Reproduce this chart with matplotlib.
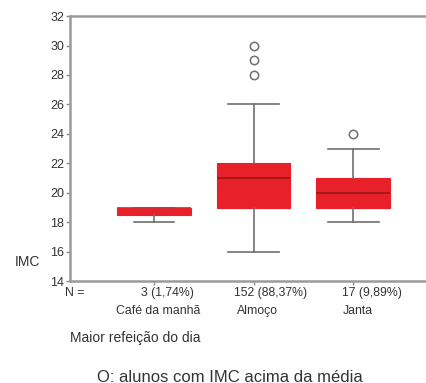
import matplotlib.pyplot as plt
import matplotlib.transforms as mtransforms

# IMC por maior refeicao do dia
categorias = ['Café da manhã', 'Almoço', 'Janta']
contagens = ['3 (1,74%)', '152 (88,37%)', '17 (9,89%)']
whisker_baixo = [18, 16, 18]
q1 = [18.5, 19, 19]
mediana = [19, 21, 20]
q3 = [19, 22, 21]
whisker_alto = [19, 26, 23]
outliers = [[], [28, 29, 30], [24]]
yticks = [14, 16, 18, 20, 22, 24, 26, 28, 30, 32]

plt.rcParams['font.family'] = ['Liberation Sans', 'DejaVu Sans']

fig = plt.figure(figsize=(4.26, 3.83), dpi=100)
ax = fig.add_axes([0.164, 0.266, 0.836, 0.692])

stats = []
for i in range(len(categorias)):
  stats.append(dict(whislo=whisker_baixo[i], q1=q1[i], med=mediana[i],
                    q3=q3[i], whishi=whisker_alto[i], fliers=outliers[i]))

cinza = '#6f6f6f'
vermelho = '#e8202a'
texto = '#333333'
bp = ax.bxp(stats, positions=[1, 2, 3], widths=0.74, patch_artist=True,
            capwidths=[0.4, 0.51, 0.51],
            boxprops=dict(facecolor=vermelho, edgecolor=vermelho, linewidth=0.8),
            medianprops=dict(color='#9a1418', linewidth=1.2),
            whiskerprops=dict(color=cinza, linewidth=1.2),
            capprops=dict(color=cinza, linewidth=1.2),
            flierprops=dict(marker='o', markerfacecolor='none', markeredgecolor=cinza,
                            markersize=6, markeredgewidth=1.1))
# mediana coincide com Q3 no cafe da manha: nao aparece no original
bp['medians'][0].set_color(vermelho)

ax.set_xlim(0.156, 3.73)
ax.set_ylim(14, 32)
ax.set_yticks(yticks)
ax.set_xticks([1, 2, 3])
ax.set_xticklabels([])
ax.tick_params(axis='both', colors='#8a8a8a', length=3, width=1,
               labelcolor=texto, labelsize=9, pad=1)

for s in ['left', 'bottom', 'top']:
  ax.spines[s].set_color('#9a9a9a')
  ax.spines[s].set_linewidth(1.8)
ax.spines['right'].set_visible(False)

trans = mtransforms.blended_transform_factory(ax.transData, fig.transFigure)
cont_x = [1.40, 2.54, 3.49]
cat_x = [0.62, 1.83, 2.89]
for i in range(len(categorias)):
  ax.text(cont_x[i], 1 - 293 / 383, contagens[i], transform=trans,
          ha='right', va='center', fontsize=8.8, color=texto)
  ax.text(cat_x[i], 1 - 311 / 383, categorias[i], transform=trans,
          ha='left', va='center', fontsize=8.8, color=texto)

fig.text(65 / 426, 1 - 293 / 383, 'N =', ha='left', va='center',
         fontsize=8.8, color=texto)
fig.text(15 / 426, 1 - 262 / 383, 'IMC', ha='left', va='center',
         fontsize=10, color=texto)
fig.text(70 / 426, 1 - 338 / 383, 'Maior refeição do dia', ha='left',
         va='center', fontsize=10, color=texto)
fig.text(230 / 426, 1 - 377 / 383, 'O: alunos com IMC acima da média',
         ha='center', va='center', fontsize=12, color=texto)

fig.savefig('out.png', dpi=100)
